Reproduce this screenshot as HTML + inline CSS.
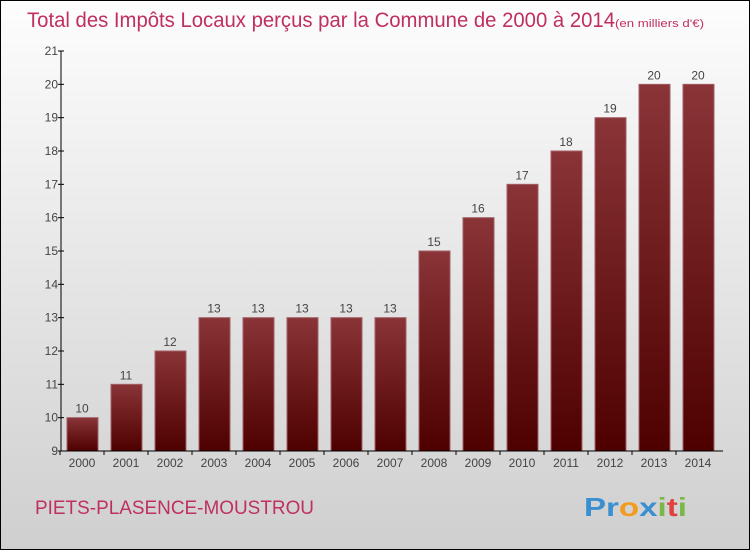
<!DOCTYPE html>
<html><head><meta charset="utf-8"><style>
body{margin:0}
#c{width:750px;height:550px;position:relative;box-sizing:border-box;border:1px solid #000;background:linear-gradient(#fdfdfd,#cfcfcf);overflow:hidden;font-family:"Liberation Sans",sans-serif}
</style></head><body>
<div id="c">
<svg width="748" height="548" style="position:absolute;left:0;top:0">
<defs><linearGradient id="g" x1="0" y1="0" x2="0" y2="1"><stop offset="0" stop-color="#8a3438"/><stop offset="1" stop-color="#4e0000"/></linearGradient></defs>
<text x="26" y="26" font-size="21" fill="#c0305f" textLength="588" lengthAdjust="spacingAndGlyphs">Total des Impôts Locaux perçus par la Commune de 2000 à 2014</text>
<text x="614" y="26" font-size="11" fill="#c0305f" textLength="89" lengthAdjust="spacingAndGlyphs">(en milliers d'€)</text>
<g id="bars"></g>
<text x="34" y="513" font-size="19" fill="#c0305f" textLength="279" lengthAdjust="spacingAndGlyphs">PIETS-PLASENCE-MOUSTROU</text>
<text x="583" y="515" font-size="26" font-weight="bold" fill="#3a8fd0" textLength="103" lengthAdjust="spacingAndGlyphs"><tspan fill="#3a8fd0">Pr</tspan><tspan fill="#f29b1d">o</tspan><tspan fill="#3a8fd0">x</tspan><tspan fill="#7ab648">i</tspan><tspan fill="#e04040">t</tspan><tspan fill="#7ab648">i</tspan></text>
</svg>
</div>
<script>
const years=["2000","2001","2002","2003","2004","2005","2006","2007","2008","2009","2010","2011","2012","2013","2014"];
const values=[10,11,12,13,13,13,13,13,15,16,17,18,19,20,20];
const yTicks=[9,10,11,12,13,14,15,16,17,18,19,20,21];
const NS="http://www.w3.org/2000/svg";
const g=document.getElementById('bars');
const y=v=>450-(v-9)*400/12;
const xc=i=>81+i*44;
function mk(t,a,txt){const e=document.createElementNS(NS,t);for(const k in a)e.setAttribute(k,a[k]);if(txt!==undefined)e.textContent=txt;g.appendChild(e);return e;}
values.forEach((v,i)=>{
 const r=mk('rect',{x:xc(i)-15,y:y(v),width:31,height:450-y(v),fill:'url(#g)',stroke:'#a06065','stroke-width':1});
 
 
 const t=mk('text',{x:xc(i),y:y(v)-5,'font-size':12,'text-anchor':'middle',fill:'#444'},v);
 
 
 const xl=mk('text',{x:xc(i),y:466,'font-size':12,'text-anchor':'middle',fill:'#444'},years[i]);
 
 
 mk('line',{x1:xc(i)-22,x2:xc(i)-22,y1:450,y2:454,stroke:'#000'});
});
mk('line',{x1:60,x2:722,y1:450,y2:450,stroke:'#000'});
const ax=mk('line',{x1:60,x2:60,y1:50,y2:450,stroke:'#000'});


yTicks.forEach(v=>{
 mk('line',{x1:57,x2:63,y1:y(v),y2:y(v),stroke:'#000'});
 const t=mk('text',{x:57,y:y(v)+4,'font-size':12,'text-anchor':'end',fill:'#444'},v);
 
 
});
</script>
</body></html>
